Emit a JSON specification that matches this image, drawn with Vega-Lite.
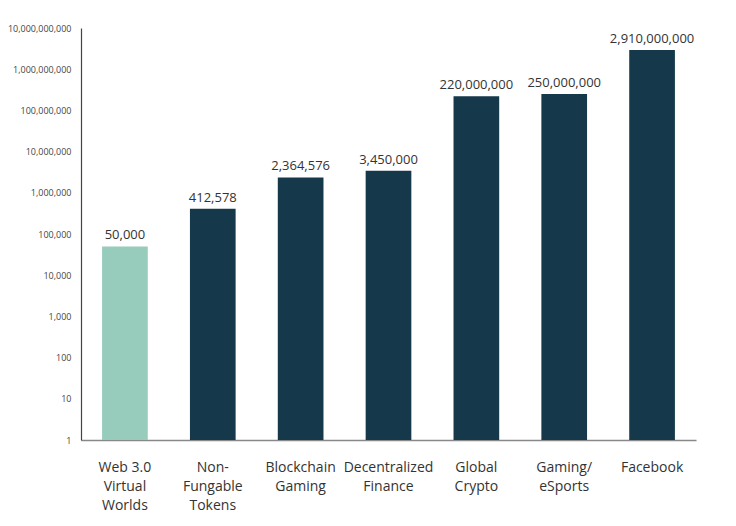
{
  "$schema": "https://vega.github.io/schema/vega-lite/v6.json",
  "width": 615,
  "height": 412,
  "autosize": "none",
  "padding": {"left": 81, "top": 28, "right": 40, "bottom": 86},
  "background": "white",
  "config": {"view": {"stroke": null}, "font": "Open Sans"},
  "data": {"values": [
    {"category": "Web 3.0|Virtual|Worlds", "users": 50000, "group": "web3"},
    {"category": "Non-|Fungable|Tokens", "users": 412578, "group": "other"},
    {"category": "Blockchain|Gaming", "users": 2364576, "group": "other"},
    {"category": "Decentralized|Finance", "users": 3450000, "group": "other"},
    {"category": "Global|Crypto", "users": 220000000, "group": "other"},
    {"category": "Gaming/|eSports", "users": 250000000, "group": "other"},
    {"category": "Facebook", "users": 2910000000, "group": "other"}
  ]},
  "encoding": {
    "x": {
      "field": "category", "type": "nominal", "sort": null,
      "scale": {"paddingInner": 0.48, "paddingOuter": 0.24},
      "axis": {
        "title": null, "labelAngle": 0, "ticks": false,
        "labelExpr": "split(datum.value, '|')",
        "labelFontSize": 14, "labelColor": "#333333", "labelLineHeight": 19,
        "labelPadding": 20, "domainColor": "#888888", "domainWidth": 1.5,
        "labelBaseline": "top"
      }
    },
    "y": {
      "field": "users", "type": "quantitative",
      "scale": {"type": "log", "domain": [1, 10000000000]},
      "axis": {
        "title": null, "grid": false, "ticks": false,
        "values": [1, 10, 100, 1000, 10000, 100000, 1000000, 10000000, 100000000, 1000000000, 10000000000],
        "format": ",d", "labelFontSize": 9, "labelColor": "#444444",
        "labelPadding": 10, "domainColor": "#444444", "domainWidth": 1.2
      }
    }
  },
  "layer": [
    {
      "mark": {"type": "bar"},
      "encoding": {
        "y2": {"datum": 1},
        "color": {
          "field": "group", "type": "nominal", "legend": null,
          "scale": {"domain": ["web3", "other"], "range": ["#97CBBB", "#15394A"]}
        }
      }
    },
    {
      "mark": {"type": "text", "baseline": "bottom", "dy": -4, "fontSize": 13, "color": "#333333"},
      "encoding": {"text": {"field": "users", "type": "quantitative", "format": ",d"}}
    }
  ]
}
